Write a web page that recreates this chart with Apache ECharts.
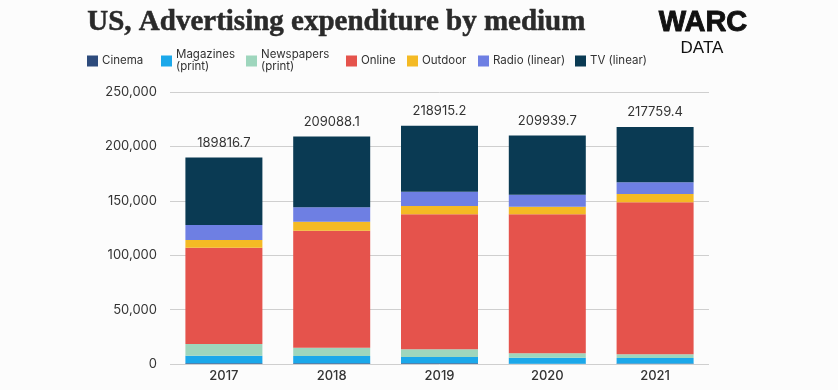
<!DOCTYPE html>
<html>
<head>
<meta charset="utf-8">
<script src="https://cdn.jsdelivr.net/npm/echarts@6/dist/echarts.min.js"></script>
<style>
html,body{margin:0;padding:0;background:#fcfcfc;}
#c{width:838px;height:390px;}
</style>
</head>
<body>
<div id="c"></div>
<script>
var years = ['2017', '2018', '2019', '2020', '2021'];
var cinema = [700, 700, 700, 300, 500];
var magazines = [6900, 6600, 5700, 5500, 5000];
var newspapers = [10800, 7700, 7100, 4000, 3400];
var online = [88500, 107500, 124100, 127800, 139700];
var outdoor = [7100, 8300, 7600, 7000, 7600];
var radio = [13700, 13200, 13100, 11000, 10800];
var tv = [62116.7, 65088.1, 60615.2, 54339.7, 50759.4];
var totals = ['189816.7', '209088.1', '218915.2', '209939.7', '217759.4'];
var yTicks = [0, 50000, 100000, 150000, 200000, 250000];

var seriesNames = ['Cinema', 'Magazines\n(print)', 'Newspapers\n(print)', 'Online', 'Outdoor', 'Radio (linear)', 'TV (linear)'];
var seriesData = [cinema, magazines, newspapers, online, outdoor, radio, tv];
var colors = ['#2d4b7c', '#1ba8ea', '#9ed6bd', '#e5534c', '#f4ba24', '#6e7fe3', '#0a3a53'];
var legendLeft = [87, 161, 246, 346, 407, 478, 575];

var font = 'Inter, "Noto Sans", sans-serif';

var chart = echarts.init(document.getElementById('c'), null, {renderer: 'canvas'});

var legends = seriesNames.map(function (n, i) {
  var two = n.indexOf('\n') >= 0;
  return {
    data: [n],
    left: legendLeft[i],
    top: two ? 49 : 55,
    padding: 0,
    itemWidth: 11,
    itemHeight: 11,
    icon: 'rect',
    selectedMode: false,
    textStyle: {fontFamily: font, fontSize: 11.5, color: '#333', lineHeight: 12, padding: [0, 0, 0, -1]}
  };
});

var series = seriesNames.map(function (n, i) {
  var s = {
    name: n,
    type: 'bar',
    stack: 'total',
    barWidth: 77,
    data: seriesData[i],
    itemStyle: {color: colors[i]},
    emphasis: {disabled: true}
  };
  if (i === seriesNames.length - 1) {
    s.label = {
      show: true,
      position: 'top',
      distance: 8,
      fontFamily: font,
      fontSize: 13,
      color: '#333',
      formatter: function (p) { return totals[p.dataIndex]; }
    };
  }
  return s;
});

chart.setOption({
  backgroundColor: '#fcfcfc',
  animation: false,
  color: colors,
  legend: legends,
  grid: {left: 170, right: 129, top: 92, bottom: 26, containLabel: false},
  xAxis: {
    type: 'category',
    data: years,
    axisLine: {show: false},
    axisTick: {show: false},
    axisLabel: {fontFamily: font, fontSize: 13, fontWeight: 500, color: '#333', margin: 6}
  },
  yAxis: {
    type: 'value',
    min: yTicks[0],
    max: yTicks[yTicks.length - 1],
    interval: yTicks[1] - yTicks[0],
    axisLine: {show: false},
    axisTick: {show: false},
    splitLine: {lineStyle: {color: '#cfcfcf', width: 1}},
    axisLabel: {
      fontFamily: font, fontSize: 13, color: '#333', margin: 13,
      formatter: function (v) { return v.toLocaleString('en-US'); }
    }
  },
  graphic: [
    {
      type: 'text', left: 87, top: 8,
      style: {text: 'US, Advertising expenditure by medium', font: 'bold 29px "Liberation Serif", serif', fill: '#2a2a2a', stroke: '#2a2a2a', lineWidth: 0.5}
    },
    {
      type: 'text', x: 703, y: 23,
      style: {text: 'WARC', font: 'bold 29px "Liberation Sans", Arial, sans-serif', fill: '#111', stroke: '#111', lineWidth: 0.9, textAlign: 'center', textVerticalAlign: 'middle'}
    },
    {
      type: 'text', x: 702, y: 48,
      style: {text: 'DATA', font: '17px "Liberation Sans", Arial, sans-serif', fill: '#111', textAlign: 'center', textVerticalAlign: 'middle'}
    }
  ],
  series: series
});
</script>
</body>
</html>
